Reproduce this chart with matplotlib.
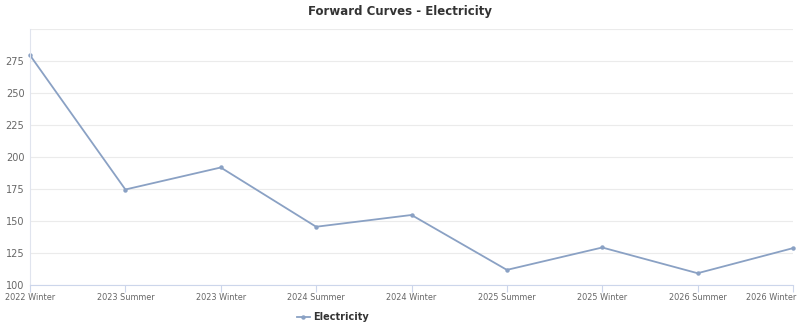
import matplotlib
matplotlib.use('Agg')
import matplotlib.pyplot as plt

periods = ['2022 Winter', '2023 Summer', '2023 Winter', '2024 Summer', '2024 Winter',
           '2025 Summer', '2025 Winter', '2026 Summer', '2026 Winter']
electricity = [279.5, 174.6, 191.8, 145.5, 154.7, 111.8, 129.3, 109.2, 128.8]
yticks = [100, 125, 150, 175, 200, 225, 250, 275]

line_color = '#8aa1c4'

fig = plt.figure(figsize=(8, 3.35), dpi=100)
ax = fig.add_axes([30 / 800, 1 - 285 / 335, 763 / 800, 256 / 335])

x = list(range(len(periods)))
ax.plot(x, electricity, color=line_color, lw=1.3, marker='o', ms=3.2,
        markeredgewidth=0, label='Electricity', clip_on=False)

ax.set_xlim(0, len(periods) - 1)
ax.set_ylim(100, 300)
ax.set_yticks(yticks)
ax.set_yticklabels([str(v) for v in yticks], fontsize=7, color='#666666')
ax.set_xticks(x)
# last label is pulled inside the chart, drawn separately below
ax.set_xticklabels(periods[:-1] + [''], fontsize=5.9, color='#666666')
ax.annotate(periods[-1], xy=(x[-1], 100), xycoords='data', xytext=(2, -6),
            textcoords='offset points', ha='right', va='top', fontsize=5.9,
            color='#666666', annotation_clip=False)

ax.grid(axis='y', color='#ebebeb', lw=0.8)
ax.axhline(300, color='#ebebeb', lw=0.8)
ax.set_axisbelow(True)
for side in ['top', 'right']:
    ax.spines[side].set_visible(False)
ax.spines['left'].set_color('#e0e4ee')
ax.spines['left'].set_linewidth(0.8)
ax.spines['bottom'].set_color('#ccd6eb')
ax.spines['bottom'].set_linewidth(0.8)
ax.tick_params(axis='y', length=0, pad=4)
ax.tick_params(axis='x', length=5, color='#ccd6eb', pad=1)

fig.text(0.5, 1 - 11 / 335, 'Forward Curves - Electricity', ha='center', va='center',
         fontsize=8.5, fontweight='bold', color='#333333')

leg = fig.legend(loc='center', bbox_to_anchor=(333 / 800, 1 - 317 / 335), frameon=False,
                 prop={'size': 7, 'weight': 'bold'}, handlelength=1.3, handletextpad=0.4,
                 labelcolor='#333333')

fig.savefig('out.png', dpi=100)
